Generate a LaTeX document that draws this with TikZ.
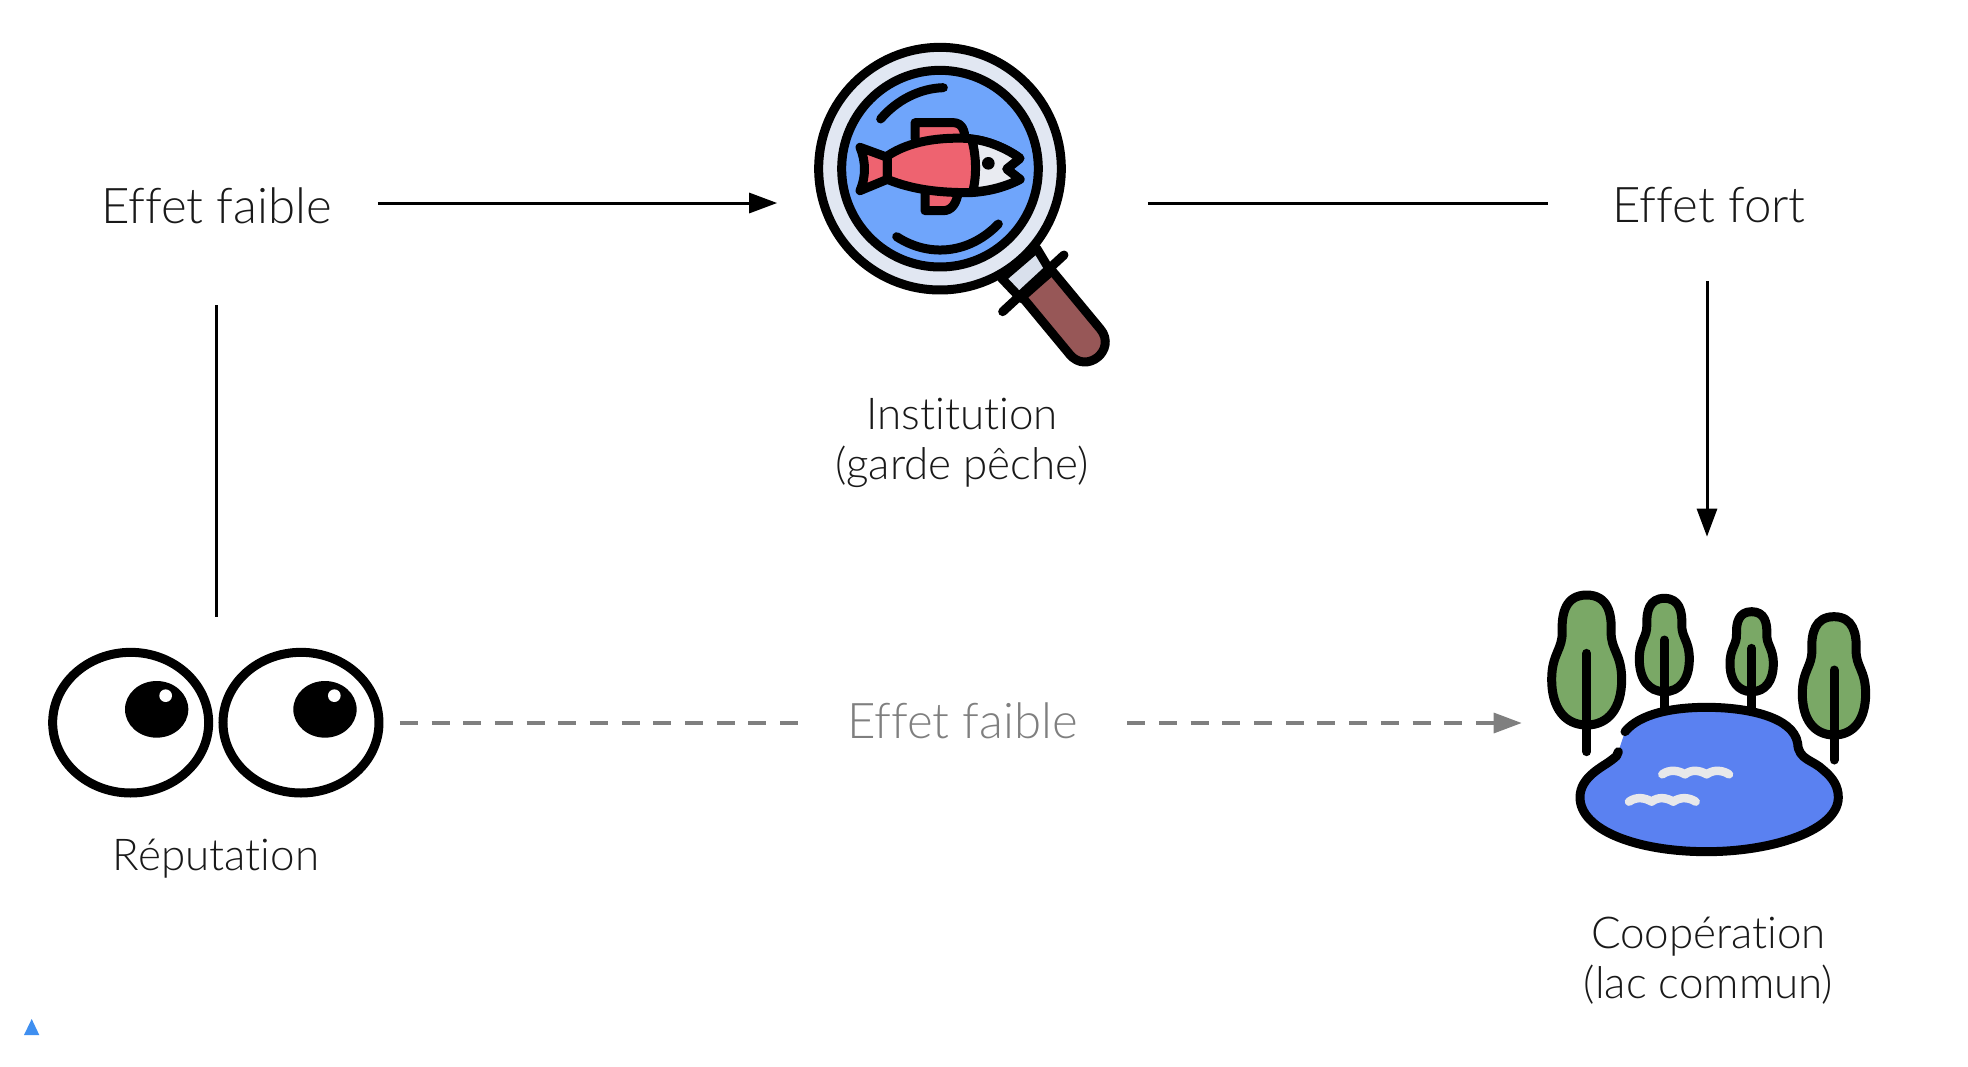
\documentclass[tikz,border=0pt]{standalone}
\usepackage{fontspec}
\setmainfont{Lato}[UprightFont=* Light,Ligatures={NoCommon}]
\usetikzlibrary{arrows.meta,calc,positioning}
\definecolor{lensblue}{HTML}{6FA5FB}
\definecolor{lakeblue}{HTML}{5A81F1}
\definecolor{fishred}{HTML}{EE6370}
\definecolor{ringgrey}{HTML}{E1E7F2}
\definecolor{collargrey}{HTML}{D9E0EC}
\definecolor{headgrey}{HTML}{E9EBF1}
\definecolor{handlebrown}{HTML}{975757}
\definecolor{treegreen}{HTML}{7AA866}
\definecolor{foamgrey}{HTML}{E8E8EA}
\definecolor{markerblue}{HTML}{3F8FF0}
\definecolor{fadedgrey}{HTML}{7F7F7F}
\tikzset{
  wire/.style={line width=.06cm,color=black},
  wire arrow/.style={wire,-{Triangle[length=.56cm,width=.4cm]}},
  faded wire/.style={line width=.065cm,color=fadedgrey,dash pattern=on .36cm off .274cm},
  faded arrow/.style={faded wire,-{Triangle[length=.56cm,width=.4cm]}},
  caption/.style={font=\fontsize{25}{28.5}\selectfont,text=black!90,align=center,inner sep=0pt},
  effect/.style={font=\fontsize{28}{30}\selectfont,text=black!90,inner sep=0pt},
  icon/.style={line width=.18cm,line cap=round,line join=round}
}
\newcommand{\PearTree}[6]{% x, top, bottom, half width, trunk top, trunk bottom
  \pgfmathsetmacro{\treeh}{#3-#2}
  \filldraw[icon,fill=treegreen] (#1,#2)
    .. controls ({#1+.6*#4},#2) and ({#1+.72*#4},{#2+.14*\treeh}) .. ({#1+.7*#4},{#2+.28*\treeh})
    .. controls ({#1+.68*#4},{#2+.42*\treeh}) and ({#1+#4},{#2+.45*\treeh}) .. ({#1+#4},{#2+.65*\treeh})
    .. controls ({#1+#4},{#2+.87*\treeh}) and ({#1+.62*#4},#3) .. (#1,#3)
    .. controls ({#1-.62*#4},#3) and ({#1-#4},{#2+.87*\treeh}) .. ({#1-#4},{#2+.65*\treeh})
    .. controls ({#1-#4},{#2+.45*\treeh}) and ({#1-.68*#4},{#2+.42*\treeh}) .. ({#1-.7*#4},{#2+.28*\treeh})
    .. controls ({#1-.72*#4},{#2+.14*\treeh}) and ({#1-.6*#4},#2) .. (#1,#2) -- cycle;
  \draw[icon] (#1,#5) -- (#1,#6);
}
\newcommand{\FoamLine}[2]{% left end of one wave line
  \draw[line width=.17cm,line cap=round,line join=round,color=foamgrey] (#1,#2)
    .. controls ({#1+22},{#2-16}) and ({#1+48},{#2-12}) .. ({#1+68},{#2})
    .. controls ({#1+88},{#2-16}) and ({#1+113},{#2-12}) .. ({#1+133},{#2})
    .. controls ({#1+155},{#2-16}) and ({#1+182},{#2-12}) .. ({#1+200},{#2});
}
\begin{document}
\begin{tikzpicture}[x=.02cm,y=-.02cm]
  \useasboundingbox (0,0) rectangle (1968,1066);

  % labels, and the boxes the connectors stop at
  \node[effect,minimum width=6.44cm,minimum height=3.98cm] (faibleHaut) at (216.5,205.5) {Effet faible};
  \node[effect,minimum width=6.44cm,minimum height=3cm] (fort) at (1709,205.5) {Effet fort};
  \node[effect,text=fadedgrey,minimum width=6.58cm] (faibleBas) at (962.5,720.5) {Effet faible};
  \node[minimum width=7.4cm,minimum height=2cm] (loupe) at (962.5,203) {};
  \node[minimum width=7.32cm,minimum height=4.24cm] (yeux) at (216.5,723) {};
  \node[minimum width=7.4cm,minimum height=7.44cm] (lac) at (1707,723) {};
  \node[caption] (reputation) at (216,858.5) {Réputation};
  \node[caption] (institution) at (962,442.5) {Institution\\(garde pêche)};
  \node[caption] (cooperation) at (1708.5,960.5) {Coopération\\(lac commun)};

  \draw[wire arrow] (faibleHaut.east |- loupe) -- (loupe.west);
  \draw[wire] (loupe.east) -- (loupe -| fort.west);
  \draw[wire arrow] (lac |- fort.south) -- (lac.north);
  \draw[wire] (faibleHaut.south) -- (yeux.north);
  \draw[faded wire] (yeux.east) -- (yeux -| faibleBas.west);
  \draw[faded arrow] (lac -| faibleBas.east) -- (lac.west);

  % magnifying glass
  \begin{scope}[shift={(780,20)},x=.00667cm,y=-.00667cm]
    \filldraw[icon,fill=handlebrown] (816,752) -- (961,927)
      .. controls (1012,989) and (920,1065) .. (869,1003) -- (724,828) -- cycle;
    \filldraw[icon,fill=collargrey] (665,775) -- (770,685) -- (812,755) -- (722,835) -- cycle;
    \draw[icon] (852,705) -- (668,875);
    \filldraw[icon,fill=ringgrey] (480,446) circle (364);
    \filldraw[icon,fill=lensblue] (480,446) circle (295);
    \draw[icon] (302,297) .. controls (350,240) and (420,205) .. (490,203);
    \draw[icon] (350,650) .. controls (450,715) and (570,700) .. (655,612);
    % fish
    \filldraw[icon,fill=fishred] (405,355) -- (405,308) -- (520,308) .. controls (545,308) and (555,330) .. (555,360);
    \filldraw[icon,fill=fishred] (435,515) -- (435,572) -- (490,572) .. controls (515,572) and (530,550) .. (535,515);
    \filldraw[icon,fill=fishred] (240,382) -- (322,412) -- (322,478) -- (240,512)
      .. controls (258,470) and (258,425) .. (240,382) -- cycle;
    \filldraw[icon,fill=fishred] (322,408) .. controls (390,362) and (480,352) .. (560,355)
      .. controls (620,360) and (680,385) .. (720,415) -- (680,447) -- (720,478)
      .. controls (670,505) and (620,515) .. (570,518)
      .. controls (480,518) and (400,510) .. (322,478) -- cycle;
    \filldraw[icon,fill=headgrey] (575,358) .. controls (620,360) and (680,385) .. (720,415)
      -- (680,447) -- (720,478) .. controls (670,503) and (620,513) .. (578,516)
      .. controls (590,470) and (590,410) .. (575,358) -- cycle;
    \fill (625,430) circle (19);
  \end{scope}

  % eyes
  \begin{scope}[shift={(30,630)},x=.00667cm,y=-.00667cm]
    \draw[icon,fill=white] (302,278) ellipse (234 and 211);
    \draw[icon,fill=white] (813,278) ellipse (234 and 211);
    \fill (380,238) ellipse (95 and 85);
    \fill (885,238) ellipse (95 and 85);
    \fill[white] (407,197) circle (19);
    \fill[white] (913,197) circle (19);
  \end{scope}

  % lake and trees
  \begin{scope}[shift={(1530,570)},x=.00667cm,y=-.00667cm]
    \PearTree{170}{75}{465}{105}{250}{545}
    \PearTree{403}{85}{365}{75}{210}{420}
    \PearTree{665}{125}{365}{65}{235}{420}
    \PearTree{912}{140}{495}{95}{300}{570}
    \fill[lakeblue] (285,485)
      .. controls (330,430) and (430,412) .. (530,412)
      .. controls (650,412) and (790,440) .. (803,520)
      .. controls (805,570) and (850,570) .. (880,600)
      .. controls (910,625) and (925,650) .. (925,682)
      .. controls (925,780) and (730,845) .. (530,845)
      .. controls (320,845) and (150,780) .. (150,682)
      .. controls (150,620) and (220,590) .. (245,570)
      .. controls (258,560) and (265,555) .. (265,545) -- cycle;
    \draw[icon] (285,485)
      .. controls (330,430) and (430,412) .. (530,412)
      .. controls (650,412) and (790,440) .. (803,520)
      .. controls (805,570) and (850,570) .. (880,600)
      .. controls (910,625) and (925,650) .. (925,682)
      .. controls (925,780) and (730,845) .. (530,845)
      .. controls (320,845) and (150,780) .. (150,682)
      .. controls (150,620) and (220,590) .. (245,570)
      .. controls (258,560) and (265,555) .. (265,545);
    \FoamLine{397}{613}
    \FoamLine{297}{695}
  \end{scope}

  \fill[markerblue] (24,1035) -- (39.3,1035) -- (31.7,1019) -- cycle;
\end{tikzpicture}
\end{document}
